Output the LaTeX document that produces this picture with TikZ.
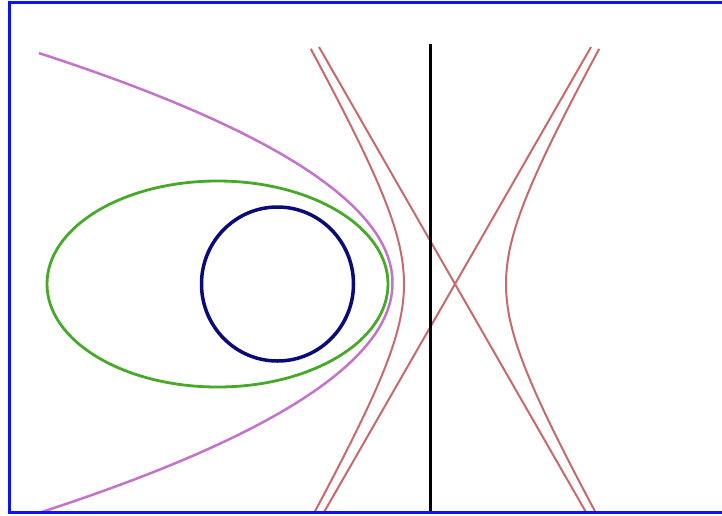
\documentclass[tikz,border=0pt]{standalone}
\definecolor{frameblue}{RGB}{10,20,250}
\definecolor{navy}{RGB}{10,10,120}
\definecolor{ellgreen}{RGB}{70,170,40}
\definecolor{parpurple}{RGB}{195,115,200}
\definecolor{hypred}{RGB}{200,105,110}
\begin{document}
\begin{tikzpicture}[x=1pt,y=-1pt,
  framestyle/.style={draw=frameblue,line width=3pt},
  circlestyle/.style={draw=navy,line width=3.5pt},
  ellipsestyle/.style={draw=ellgreen,line width=2.8pt},
  parabolastyle/.style={draw=parpurple,line width=2.5pt},
  hyperstyle/.style={draw=hypred,line width=2pt},
  axisstyle/.style={draw=black,line width=3pt}]
\useasboundingbox (0,0) rectangle (722,515);
\fill[white] (0,0) rectangle (722,515);
\begin{scope}
\clip (8,3) rectangle (722,512);
% parabola
\draw[parabolastyle] plot[domain=-0.991:0.99,samples=120,smooth] ({392.5-360*\x*\x},{283+232*\x});
% ellipse
\draw[ellipsestyle] (217.5,284) ellipse [x radius=170.5,y radius=103];
% circle
\draw[circlestyle] (277.5,284) ellipse [x radius=76,y radius=77];
% hyperbola branches
\draw[hyperstyle] plot[domain=-1.7:1.7,samples=120,smooth] ({455-51*cosh(\x)},{284+88.9*sinh(\x)});
\draw[hyperstyle] plot[domain=-1.7:1.7,samples=120,smooth] ({455+51*cosh(\x)},{284+88.9*sinh(\x)});
% asymptotes
\coordinate (c) at (455,284);
\coordinate (a1) at (319,47);
\coordinate (a2) at (587.6,515);
\coordinate (b1) at (591,47);
\coordinate (b2) at (322.4,515);
\draw[hyperstyle] (a1) -- (c) -- (a2);
\draw[hyperstyle] (b1) -- (c) -- (b2);
% vertical line
\coordinate (v1) at (430,44);
\coordinate (v2) at (430,515);
\draw[axisstyle] (v1) -- (v2);
\end{scope}
% frame
\draw[framestyle] (9.5,2.5) rectangle (730,512.5);
\end{tikzpicture}
\end{document}
